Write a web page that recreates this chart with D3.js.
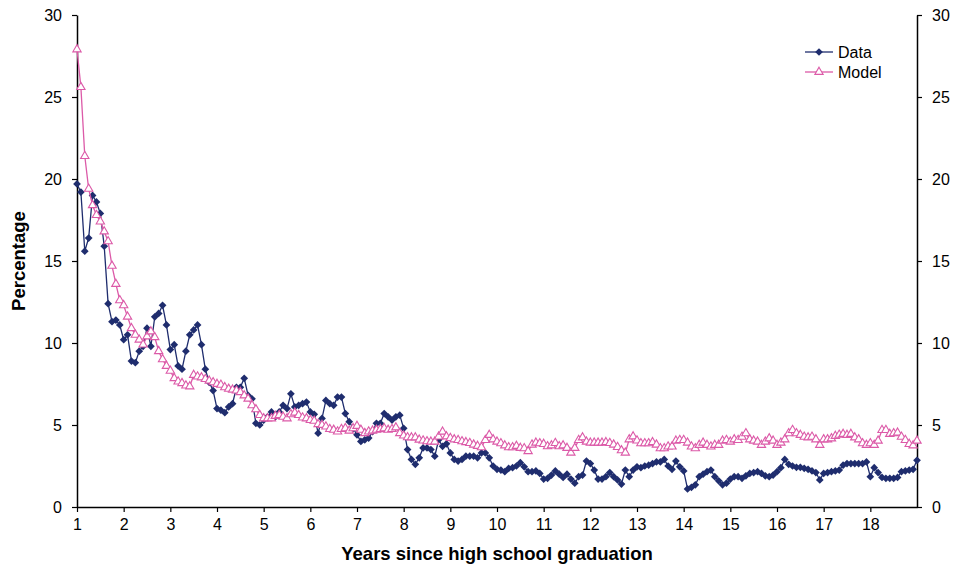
<!DOCTYPE html>
<html>
<head>
<meta charset="utf-8">
<script src="https://cdn.jsdelivr.net/npm/d3@7"></script>
<style>
  body { margin: 0; background: #fff; }
  svg text { font-family: "Liberation Sans", Arial, sans-serif; }
</style>
</head>
<body>
<div id="chart"></div>
<script>
// monthly values, first point at 1 year, 12 points per year
const dataValues = [
  19.7, 19.2, 15.6, 16.4, 19.0, 18.6, 17.9, 15.9, 12.4, 11.3, 11.4, 11.1, 10.2, 10.5, 8.9, 8.8,
  9.5, 9.8, 10.9, 9.8, 11.6, 11.8, 12.3, 11.1, 9.6, 9.9, 8.6, 8.4, 9.5, 10.5, 10.8, 11.1,
  9.9, 8.4, 7.6, 7.1, 6.0, 5.9, 5.75, 6.1, 6.3, 7.3, 7.3, 7.85, 6.8, 6.6, 5.1, 5.0,
  5.3, 5.5, 5.8, 5.5, 5.8, 6.2, 6.0, 6.9, 6.1, 6.2, 6.3, 6.4, 5.8, 5.65, 4.5, 5.4,
  6.5, 6.3, 6.2, 6.7, 6.7, 5.7, 5.2, 4.8, 4.4, 4.0, 4.1, 4.2, 4.6, 5.1, 5.1, 5.7,
  5.5, 5.3, 5.5, 5.6, 4.8, 3.5, 2.9, 2.6, 3.0, 3.6, 3.6, 3.5, 3.1, 4.1, 3.7, 3.85,
  3.3, 2.9, 2.8, 2.9, 3.1, 3.1, 3.1, 3.0, 3.3, 3.3, 3.0, 2.5, 2.3, 2.25, 2.15, 2.35,
  2.4, 2.5, 2.7, 2.45, 2.15, 2.15, 2.2, 2.05, 1.7, 1.75, 1.95, 2.2, 2.0, 1.8, 2.0, 1.7,
  1.45, 1.85, 1.95, 2.8, 2.65, 2.25, 1.7, 1.7, 1.85, 2.1, 1.85, 1.65, 1.4, 2.25, 1.85, 2.25,
  2.45, 2.4, 2.5, 2.55, 2.65, 2.75, 2.75, 2.9, 2.5, 2.3, 2.8, 2.45, 2.2, 1.1, 1.2, 1.35,
  1.85, 2.0, 2.15, 2.25, 1.85, 1.6, 1.35, 1.45, 1.7, 1.85, 1.85, 1.75, 1.9, 2.05, 2.1, 2.15,
  2.05, 1.9, 1.85, 1.95, 2.15, 2.4, 2.9, 2.6, 2.5, 2.42, 2.42, 2.36, 2.3, 2.2, 2.1, 1.65,
  2.05, 2.1, 2.15, 2.2, 2.25, 2.55, 2.65, 2.65, 2.65, 2.65, 2.65, 2.75, 1.85, 2.4, 2.1, 1.8,
  1.75, 1.75, 1.75, 1.8, 2.15, 2.2, 2.25, 2.3, 2.85
];

const modelValues = [
  27.9, 25.6, 21.4, 19.4, 18.4, 17.8, 17.4, 16.8, 16.2, 14.7, 13.6, 12.6, 12.3, 11.6, 10.9, 10.5,
  10.2, 9.9, 10.4, 10.7, 10.35, 9.5, 9.0, 8.6, 8.3, 7.85, 7.65, 7.55, 7.4, 7.35, 8.05, 7.95,
  7.9, 7.8, 7.7, 7.6, 7.5, 7.45, 7.3, 7.2, 7.15, 7.1, 7.0, 6.8, 6.6, 6.2, 5.95, 5.6,
  5.4, 5.4, 5.4, 5.55, 5.6, 5.5, 5.4, 5.65, 5.75, 5.6, 5.45, 5.4, 5.3, 5.25, 5.05, 5.0,
  4.9, 4.75, 4.7, 4.6, 4.75, 4.8, 4.65, 4.8, 4.94, 4.7, 4.5, 4.6, 4.65, 4.7, 4.74, 4.8,
  4.7, 4.75, 4.85, 4.5, 4.35, 4.25, 4.24, 4.24, 4.1, 4.05, 4.0, 3.98, 3.98, 4.29, 4.59, 4.3,
  4.2, 4.12, 4.08, 4.0, 3.95, 3.9, 3.8, 3.72, 3.64, 4.08, 4.39, 4.12, 3.98, 3.88, 3.75, 3.64,
  3.64, 3.72, 3.6, 3.58, 3.4, 3.8, 3.92, 3.88, 3.84, 3.7, 3.75, 3.9, 3.7, 3.75, 3.6, 3.31,
  3.6, 4.08, 4.24, 3.98, 3.92, 3.92, 3.92, 3.92, 3.95, 3.9, 3.8, 3.65, 3.45, 3.31, 4.12, 4.3,
  4.05, 3.88, 3.88, 3.88, 3.95, 3.8, 3.58, 3.58, 3.68, 3.68, 4.04, 4.08, 4.08, 3.92, 3.68, 3.58,
  3.78, 3.92, 3.78, 3.68, 3.78, 3.78, 4.04, 4.08, 3.98, 4.12, 4.08, 4.28, 4.49, 4.12, 4.04, 3.98,
  3.78, 3.98, 4.18, 4.04, 3.78, 3.92, 4.12, 4.49, 4.69, 4.49, 4.39, 4.28, 4.24, 4.28, 4.12, 3.78,
  4.12, 4.12, 4.18, 4.33, 4.4, 4.45, 4.39, 4.45, 4.24, 4.12, 3.88, 3.78, 3.88, 3.78, 4.04, 4.69,
  4.69, 4.45, 4.49, 4.53, 4.28, 4.08, 3.84, 3.75, 4.04
];

const xTicks = d3.range(1, 19);          // 1 .. 18
const yTicks = [0, 5, 10, 15, 20, 25, 30];
const seriesNames = ["Data", "Model"];

const width = 955, height = 568;
const margin = { top: 15, right: 38, bottom: 61, left: 77 };

const dataColor = "#1f2d6e";
const modelColor = "#dc5aa8";

const svg = d3.select("#chart").append("svg")
  .attr("width", width)
  .attr("height", height);

const x = d3.scaleLinear().domain([1, 19]).range([margin.left, width - margin.right]);
const y = d3.scaleLinear().domain([0, 30]).range([height - margin.bottom, margin.top]);

const toPoints = vals => vals.map((v, i) => ({ x: 1 + i / 12, v }));
const dataPts = toPoints(dataValues);
const modelPts = toPoints(modelValues);

// axes
const styleAxis = g => {
  g.select(".domain").attr("stroke", "#000").attr("stroke-width", 1.5);
  g.selectAll(".tick line").attr("stroke", "#000").attr("stroke-width", 1.2);
  g.selectAll(".tick text").attr("font-size", 16).attr("fill", "#000");
};

svg.append("g")
  .attr("transform", `translate(${margin.left},0)`)
  .call(d3.axisLeft(y).tickValues(yTicks).tickSize(5).tickPadding(10).tickSizeOuter(0))
  .call(styleAxis);

svg.append("g")
  .attr("transform", `translate(${width - margin.right},0)`)
  .call(d3.axisRight(y).tickValues(yTicks).tickSize(5).tickPadding(10).tickSizeOuter(0))
  .call(styleAxis);

svg.append("g")
  .attr("transform", `translate(0,${height - margin.bottom})`)
  .call(d3.axisBottom(x).tickValues(xTicks).tickFormat(d3.format("d")).tickSize(5).tickPadding(7).tickSizeOuter(0))
  .call(styleAxis);

// axis titles
svg.append("text")
  .attr("x", (margin.left + width - margin.right) / 2)
  .attr("y", 560)
  .attr("text-anchor", "middle")
  .attr("font-size", 18.5)
  .attr("font-weight", "bold")
  .text("Years since high school graduation");

svg.append("text")
  .attr("transform", `translate(25,${(margin.top + height - margin.bottom) / 2}) rotate(-90)`)
  .attr("text-anchor", "middle")
  .attr("font-size", 18.5)
  .attr("font-weight", "bold")
  .text("Percentage");

// lines, data first then model on top
const line = d3.line().x(d => x(d.x)).y(d => y(d.v));
const diamond = d3.symbol().type(d3.symbolSquare).size(30);
const triangle = d3.symbol().type(d3.symbolTriangle).size(30);

svg.append("path")
  .datum(dataPts)
  .attr("fill", "none")
  .attr("stroke", dataColor)
  .attr("stroke-width", 1.3)
  .attr("d", line);

svg.append("g").selectAll("path")
  .data(dataPts)
  .join("path")
  .attr("transform", d => `translate(${x(d.x)},${y(d.v)}) rotate(45)`)
  .attr("d", diamond)
  .attr("fill", dataColor);

svg.append("path")
  .datum(modelPts)
  .attr("fill", "none")
  .attr("stroke", modelColor)
  .attr("stroke-width", 1.3)
  .attr("d", line);

svg.append("g").selectAll("path")
  .data(modelPts)
  .join("path")
  .attr("transform", d => `translate(${x(d.x)},${y(d.v)})`)
  .attr("d", triangle)
  .attr("fill", "#fff")
  .attr("stroke", modelColor)
  .attr("stroke-width", 1.1);

// legend
const legend = svg.append("g");
seriesNames.forEach((name, i) => {
  const ly = 52 + i * 20;
  const color = i === 0 ? dataColor : modelColor;
  legend.append("line")
    .attr("x1", 805).attr("x2", 833)
    .attr("y1", ly).attr("y2", ly)
    .attr("stroke", color).attr("stroke-width", 1.3);
  const m = legend.append("path")
    .attr("d", i === 0 ? diamond : triangle);
  if (i === 0) {
    m.attr("transform", `translate(819,${ly}) rotate(45)`).attr("fill", color);
  } else {
    m.attr("transform", `translate(819,${ly})`).attr("fill", "#fff")
      .attr("stroke", color).attr("stroke-width", 1.1);
  }
  legend.append("text")
    .attr("x", 838).attr("y", ly)
    .attr("dy", "0.35em")
    .attr("font-size", 16)
    .text(name);
});
</script>
</body>
</html>
